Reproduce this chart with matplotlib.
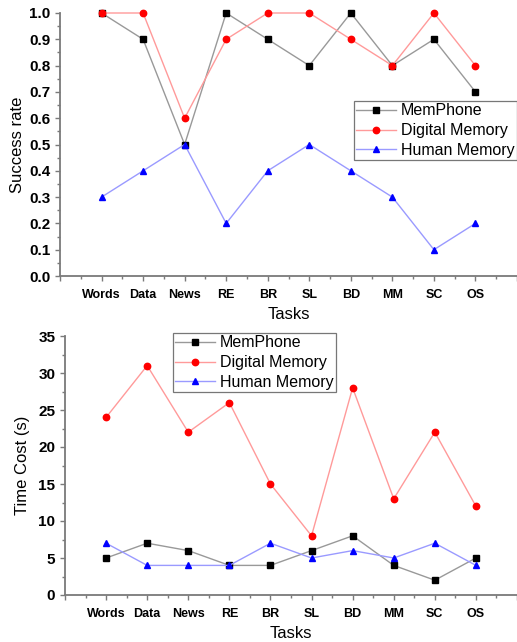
import numpy as np
import matplotlib
matplotlib.use("Agg")
import matplotlib.pyplot as plt
from matplotlib.ticker import MultipleLocator

plt.rcParams['font.family'] = ['Liberation Sans', 'DejaVu Sans']

tasks = ['Words', 'Data', 'News', 'RE', 'BR', 'SL', 'BD', 'MM', 'SC', 'OS']
series_names = ['MemPhone', 'Digital Memory', 'Human Memory']

success_memphone = [1.0, 0.9, 0.5, 1.0, 0.9, 0.8, 1.0, 0.8, 0.9, 0.7]
success_digital = [1.0, 1.0, 0.6, 0.9, 1.0, 1.0, 0.9, 0.8, 1.0, 0.8]
success_human = [0.3, 0.4, 0.5, 0.2, 0.4, 0.5, 0.4, 0.3, 0.1, 0.2]

time_memphone = [5, 7, 6, 4, 4, 6, 8, 4, 2, 5]
time_digital = [24, 31, 22, 26, 15, 8, 28, 13, 22, 12]
time_human = [7, 4, 4, 4, 7, 5, 6, 5, 7, 4]

W, H = 517, 642
fig = plt.figure(figsize=(W / 100, H / 100), dpi=100)

line_colors = ['#999999', '#ff9a9a', '#9a9aff']
marker_colors = ['black', 'red', 'blue']
markers = ['s', 'o', '^']
spine_col = '#7a7a7a'

x = np.arange(1, len(tasks) + 1)


def style_axes(ax, ymax, ymajor, yfmt):
    for s in ['top', 'right']:
        ax.spines[s].set_visible(False)
    for s in ['left', 'bottom']:
        ax.spines[s].set_color(spine_col)
        ax.spines[s].set_linewidth(1.3)
    ax.set_xlim(0, 11)
    ax.set_ylim(0, ymax)
    ax.set_xticks(np.arange(0, 12))
    ax.set_xticklabels([''] + tasks + [''])
    ax.set_xticks(np.arange(0.5, 11, 1), minor=True)
    ax.yaxis.set_major_locator(MultipleLocator(ymajor))
    ax.yaxis.set_minor_locator(MultipleLocator(ymajor / 2))
    ax.tick_params(axis='both', which='major', direction='out', length=3.5,
                   width=1.0, color=spine_col)
    ax.tick_params(axis='both', which='minor', direction='out', length=2,
                   width=1.0, color=spine_col)
    ax.tick_params(axis='x', which='major', pad=6)
    for lab in ax.get_xticklabels():
        lab.set_fontweight('bold')
        lab.set_fontsize(9)
    ax.yaxis.set_major_formatter(plt.FuncFormatter(yfmt))
    for lab in ax.get_yticklabels():
        lab.set_fontweight('bold')
        lab.set_fontsize(11)


def draw(ax, ys):
    handles = []
    for y, lc, mc, m, name in zip(ys, line_colors, marker_colors, markers, series_names):
        h, = ax.plot(x, y, color=lc, lw=1.0, marker=m, markersize=4.6,
                     markerfacecolor=mc, markeredgecolor=mc, label=name,
                     clip_on=False, zorder=3)
        handles.append(h)
    return handles


def make_legend(ax, handles, left_px, top_px):
    leg = ax.legend(handles=handles, loc='upper left',
                    bbox_to_anchor=(left_px / W, 1 - top_px / H),
                    bbox_transform=fig.transFigure,
                    fontsize=11.5, frameon=True, fancybox=False, borderpad=0.15,
                    labelspacing=0.3, handlelength=2.5, handletextpad=0.3,
                    borderaxespad=0)
    leg.get_frame().set_edgecolor('#555555')
    leg.get_frame().set_linewidth(0.9)
    return leg


# top axes
ax1 = fig.add_axes([60 / W, 1 - 276 / H, (W - 60) / W, (276 - 13) / H])
h1 = draw(ax1, [success_memphone, success_digital, success_human])
style_axes(ax1, 1.0, 0.1, lambda v, p: f"{v:.1f}")
ax1.set_xlabel('Tasks', fontsize=12, labelpad=4)
ax1.set_ylabel('Success rate', fontsize=12, labelpad=3)
make_legend(ax1, h1, 354, 101)

# bottom axes
ax2 = fig.add_axes([65 / W, 1 - 595 / H, (W - 65) / W, (595 - 336) / H])
h2 = draw(ax2, [time_memphone, time_digital, time_human])
style_axes(ax2, 35, 5, lambda v, p: f"{v:.0f}")
ax2.set_xlabel('Tasks', fontsize=12, labelpad=4)
ax2.set_ylabel('Time Cost (s)', fontsize=12, labelpad=6)
make_legend(ax2, h2, 173, 333)

fig.savefig('out.png', dpi=100)
